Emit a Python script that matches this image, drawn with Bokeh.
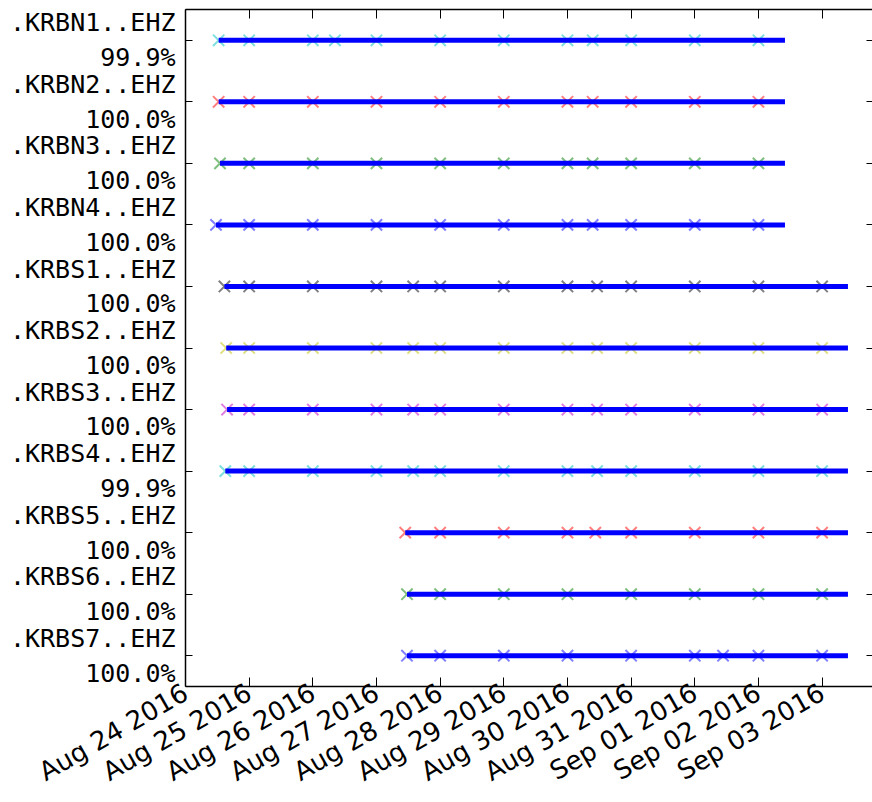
import math
import pandas as pd
from bokeh.plotting import figure
from bokeh.models import (ColumnDataSource, Range1d, FixedTicker, DaysTicker,
                          DatetimeAxis, LinearAxis, DatetimeTickFormatter,
                          CustomLabelingPolicy)
from bokeh.embed import file_html
from bokeh.resources import INLINE

stations = [".KRBN1..EHZ", ".KRBN2..EHZ", ".KRBN3..EHZ", ".KRBN4..EHZ",
            ".KRBS1..EHZ", ".KRBS2..EHZ", ".KRBS3..EHZ", ".KRBS4..EHZ",
            ".KRBS5..EHZ", ".KRBS6..EHZ", ".KRBS7..EHZ"]
coverage = ["99.9%", "100.0%", "100.0%", "100.0%", "100.0%", "100.0%",
            "100.0%", "99.9%", "100.0%", "100.0%", "100.0%"]
seg_start = ["2016-08-24 12:30", "2016-08-24 12:30", "2016-08-24 13:00",
             "2016-08-24 11:30", "2016-08-24 14:40", "2016-08-24 15:20",
             "2016-08-24 15:40", "2016-08-24 15:00", "2016-08-27 10:50",
             "2016-08-27 11:30", "2016-08-27 11:30"]
seg_end = ["2016-09-02 10:00", "2016-09-02 10:00", "2016-09-02 10:00",
           "2016-09-02 10:00", "2016-09-03 09:45", "2016-09-03 09:45",
           "2016-09-03 09:45", "2016-09-03 09:45", "2016-09-03 09:45",
           "2016-09-03 09:45", "2016-09-03 09:45"]
marker_colors = ["#00bfbf", "#ff0000", "#008000", "#0000ff", "#000000",
                 "#bfbf00", "#bf00bf", "#00bfbf", "#ff0000", "#008000",
                 "#0000ff"]
file_starts = [
    ["2016-08-24 12:30", "2016-08-25", "2016-08-26", "2016-08-26 08:20", "2016-08-27",
     "2016-08-28", "2016-08-29", "2016-08-30", "2016-08-30 09:30", "2016-08-31",
     "2016-09-01", "2016-09-02"],
    ["2016-08-24 12:30", "2016-08-25", "2016-08-26", "2016-08-27", "2016-08-28",
     "2016-08-29", "2016-08-30", "2016-08-30 09:30", "2016-08-31", "2016-09-01",
     "2016-09-02"],
    ["2016-08-24 13:00", "2016-08-25", "2016-08-26", "2016-08-27", "2016-08-28",
     "2016-08-29", "2016-08-30", "2016-08-30 09:30", "2016-08-31", "2016-09-01",
     "2016-09-02"],
    ["2016-08-24 11:30", "2016-08-25", "2016-08-26", "2016-08-27", "2016-08-28",
     "2016-08-29", "2016-08-30", "2016-08-30 09:30", "2016-08-31", "2016-09-01",
     "2016-09-02"],
    ["2016-08-24 14:40", "2016-08-25", "2016-08-26", "2016-08-27", "2016-08-27 13:50",
     "2016-08-28", "2016-08-29", "2016-08-30", "2016-08-30 11:10", "2016-08-31",
     "2016-09-01", "2016-09-02", "2016-09-03"],
    ["2016-08-24 15:20", "2016-08-25", "2016-08-26", "2016-08-27", "2016-08-27 13:50",
     "2016-08-28", "2016-08-29", "2016-08-30", "2016-08-30 11:10", "2016-08-31",
     "2016-09-01", "2016-09-02", "2016-09-03"],
    ["2016-08-24 15:40", "2016-08-25", "2016-08-26", "2016-08-27", "2016-08-27 13:50",
     "2016-08-28", "2016-08-29", "2016-08-30", "2016-08-30 11:10", "2016-08-31",
     "2016-09-01", "2016-09-02", "2016-09-03"],
    ["2016-08-24 15:00", "2016-08-25", "2016-08-26", "2016-08-27", "2016-08-27 13:50",
     "2016-08-28", "2016-08-29", "2016-08-30", "2016-08-30 11:10", "2016-08-31",
     "2016-09-01", "2016-09-02", "2016-09-03"],
    ["2016-08-27 10:50", "2016-08-28", "2016-08-29", "2016-08-30", "2016-08-30 10:30",
     "2016-08-31", "2016-09-01", "2016-09-02", "2016-09-03"],
    ["2016-08-27 11:30", "2016-08-28", "2016-08-29", "2016-08-30", "2016-08-31",
     "2016-09-01", "2016-09-02", "2016-09-03"],
    ["2016-08-27 11:30", "2016-08-28", "2016-08-29", "2016-08-30", "2016-08-31",
     "2016-09-01", "2016-09-01 10:40", "2016-09-02", "2016-09-03"],
]
x_limits = ["2016-08-24 00:00", "2016-09-03 19:00"]

rows = list(range(len(stations)))
seg_src = ColumnDataSource(dict(
    x0=pd.to_datetime(seg_start), x1=pd.to_datetime(seg_end), y=rows))

mx, my, mc = [], [], []
for i, times in enumerate(file_starts):
    for t in times:
        mx.append(pd.Timestamp(t))
        my.append(i)
        mc.append(marker_colors[i])
mk_src = ColumnDataSource(dict(x=mx, y=my, c=mc))

p = figure(width=872, height=802, x_axis_type="datetime",
           output_backend="svg", toolbar_location=None,
           x_range=Range1d(pd.Timestamp(x_limits[0]), pd.Timestamp(x_limits[1])),
           y_range=Range1d(10.5, -0.5),
           min_border_left=185, min_border_right=0, min_border_top=9,
           min_border_bottom=116)
p.grid.visible = False
p.outline_line_color = None
p.background_fill_color = "white"
p.border_fill_color = "white"

p.scatter("x", "y", source=mk_src, marker="x", size=16, line_color="c",
          line_alpha=0.5, line_width=2)
p.segment(x0="x0", y0="y", x1="x1", y1="y", source=seg_src,
          line_color="#0000ff", line_width=5)

day_ticker = DaysTicker(days=list(range(1, 32)))
fmt = DatetimeTickFormatter(days="%b %d %Y", months="%b %d %Y", hours="%b %d %Y")

xa = p.xaxis[0]
xa.ticker = day_ticker
xa.formatter = fmt
xa.major_label_orientation = math.pi / 6
xa.major_label_text_font = "DejaVu Sans"
xa.major_label_text_font_size = "26px"
xa.major_label_text_color = "black"
xa.major_tick_in = 9
xa.major_tick_out = 0
xa.minor_tick_line_color = None
xa.axis_line_color = "black"
xa.axis_line_width = 1.5
xa.major_label_standoff = 4

ya = p.yaxis[0]
ya.ticker = FixedTicker(ticks=rows)
ya.major_label_overrides = {i: f"{stations[i]}\n{coverage[i]}" for i in rows}
ya.major_label_text_font = "DejaVu Sans Mono"
ya.major_label_text_font_size = "25px"
ya.major_label_text_color = "black"
ya.major_tick_in = 7
ya.major_tick_out = 0
ya.minor_tick_line_color = None
ya.axis_line_color = "black"
ya.axis_line_width = 1.5
ya.major_label_standoff = 10

top = DatetimeAxis(ticker=day_ticker, formatter=fmt)
top.major_label_policy = CustomLabelingPolicy(code="return []")
top.major_label_text_font_size = "0px"
top.major_label_standoff = 0
top.major_tick_in = 9
top.major_tick_out = 0
top.minor_tick_line_color = None
top.axis_line_color = "black"
top.axis_line_width = 1.5
p.add_layout(top, "above")

right = LinearAxis(ticker=FixedTicker(ticks=rows))
right.major_label_policy = CustomLabelingPolicy(code="return []")
right.major_label_text_font_size = "0px"
right.major_label_standoff = 0
right.major_tick_in = 6
right.major_tick_out = 0
right.minor_tick_line_color = None
right.axis_line_color = None
p.add_layout(right, "right")

open("out.html", "w").write(file_html(p, INLINE))
